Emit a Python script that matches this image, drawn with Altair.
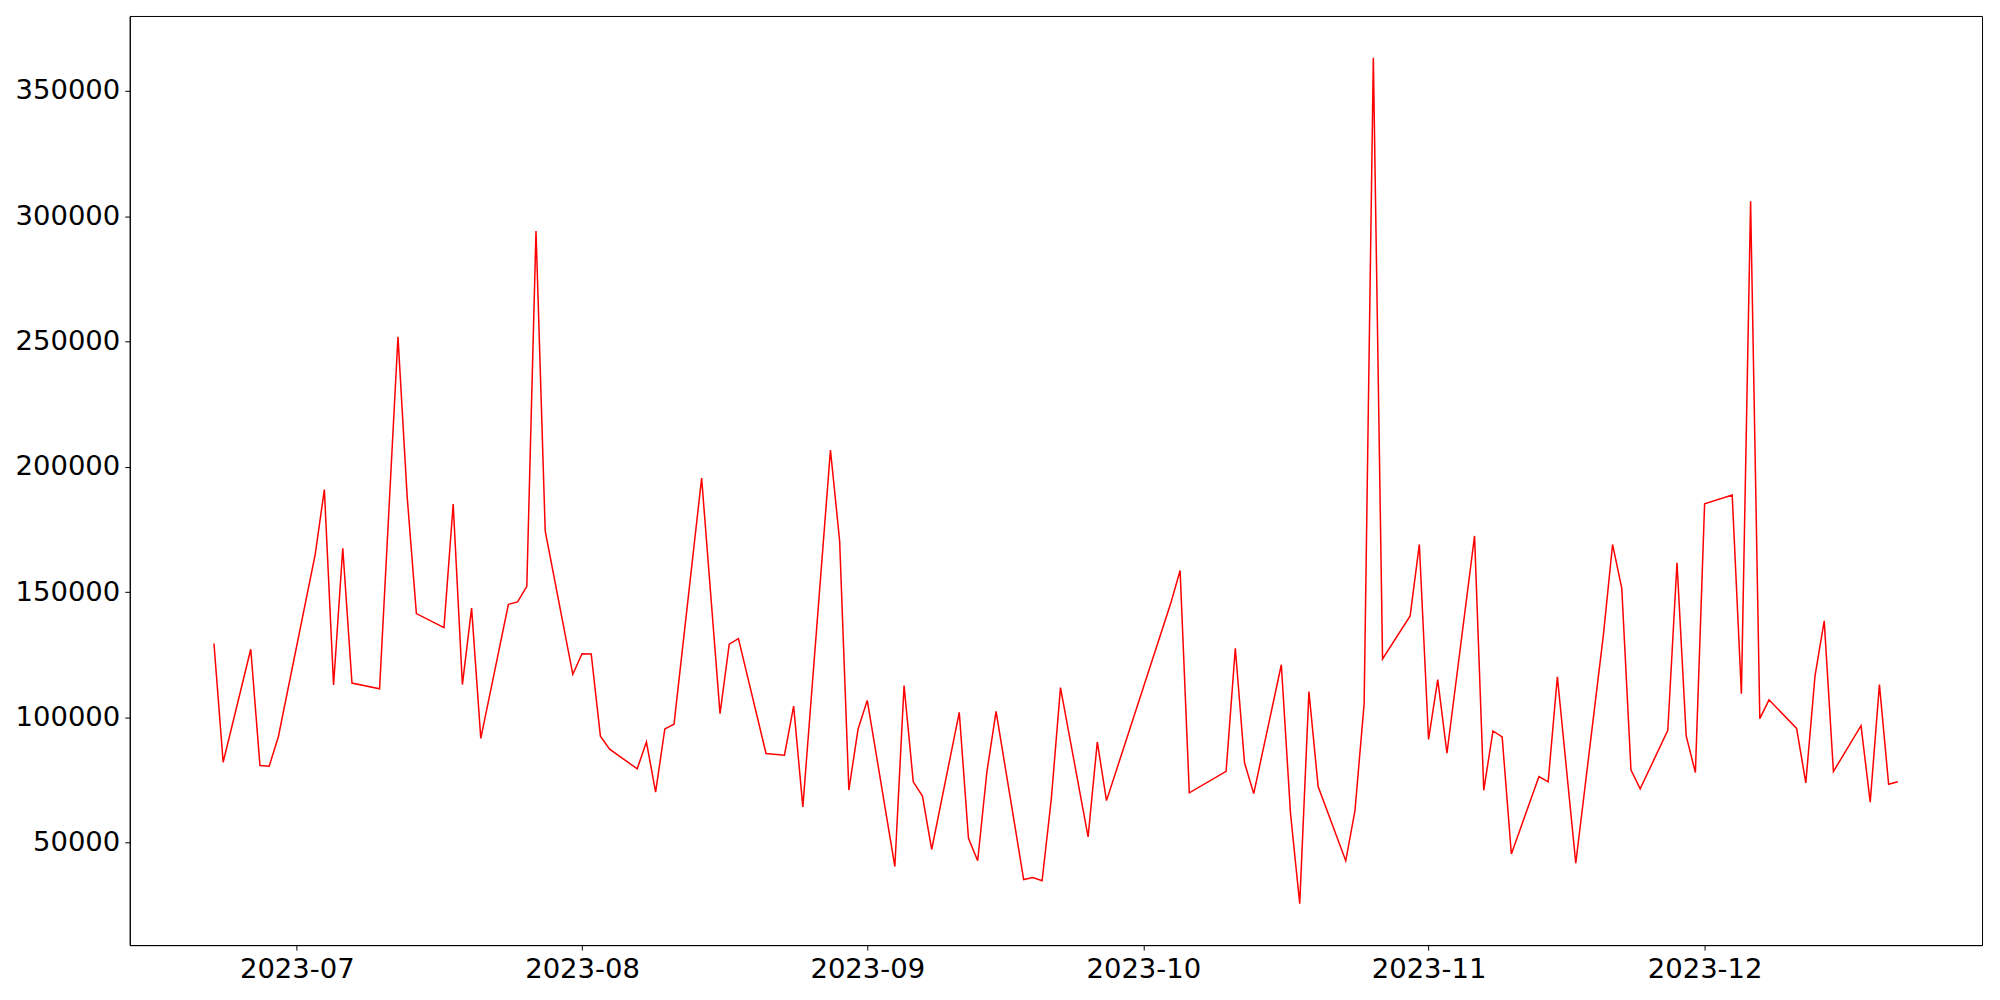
import altair as alt
import pandas as pd

dates = [
    "2023-06-22", "2023-06-23", "2023-06-26", "2023-06-27", "2023-06-28", "2023-06-29",
    "2023-07-03", "2023-07-04", "2023-07-05", "2023-07-06", "2023-07-07", "2023-07-10",
    "2023-07-12", "2023-07-13", "2023-07-14", "2023-07-17", "2023-07-18", "2023-07-19",
    "2023-07-20", "2023-07-21", "2023-07-24", "2023-07-25", "2023-07-26", "2023-07-27",
    "2023-07-28", "2023-07-31", "2023-08-01", "2023-08-02", "2023-08-03", "2023-08-04",
    "2023-08-07", "2023-08-08", "2023-08-09", "2023-08-10", "2023-08-11", "2023-08-14",
    "2023-08-16", "2023-08-17", "2023-08-18", "2023-08-21", "2023-08-23", "2023-08-24",
    "2023-08-25", "2023-08-28", "2023-08-29", "2023-08-30", "2023-08-31", "2023-09-01",
    "2023-09-04", "2023-09-05", "2023-09-06", "2023-09-07", "2023-09-08", "2023-09-11",
    "2023-09-12", "2023-09-13", "2023-09-14", "2023-09-15", "2023-09-18", "2023-09-19",
    "2023-09-20", "2023-09-21", "2023-09-22", "2023-09-25", "2023-09-26", "2023-09-27",
    "2023-10-04", "2023-10-05", "2023-10-06", "2023-10-10", "2023-10-11", "2023-10-12",
    "2023-10-13", "2023-10-16", "2023-10-17", "2023-10-18", "2023-10-19", "2023-10-20",
    "2023-10-23", "2023-10-24", "2023-10-25", "2023-10-26", "2023-10-27", "2023-10-30",
    "2023-10-31", "2023-11-01", "2023-11-02", "2023-11-03", "2023-11-06", "2023-11-07",
    "2023-11-08", "2023-11-09", "2023-11-10", "2023-11-13", "2023-11-14", "2023-11-15",
    "2023-11-17", "2023-11-20", "2023-11-21", "2023-11-22", "2023-11-23", "2023-11-24",
    "2023-11-27", "2023-11-28", "2023-11-29", "2023-11-30", "2023-12-01", "2023-12-04",
    "2023-12-05", "2023-12-06", "2023-12-07", "2023-12-08", "2023-12-11", "2023-12-12",
    "2023-12-13", "2023-12-14", "2023-12-15", "2023-12-18", "2023-12-19", "2023-12-20",
    "2023-12-21", "2023-12-22",
]

values = [
    129500, 82100, 127200, 80800, 80500, 92300,
    164900, 190900, 112900, 167500, 113700, 111400,
    251900, 188000, 141400, 135800, 185100, 113100,
    143600, 91600, 145100, 146100, 152300, 294100,
    174400, 117200, 125400, 125300, 92500, 87300,
    79500, 90200, 70200, 95400, 97300, 195500,
    101500, 129200, 131400, 85600, 84900, 104500,
    64300, 206700, 170400, 71000, 95300, 106800,
    40500, 112700, 74300, 68600, 47300, 102000,
    51800, 42800, 78200, 102400, 35300, 36100,
    34800, 67400, 111900, 52300, 90200, 66800,
    145700, 158600, 69900, 78500, 127600, 81900,
    69600, 121000, 61600, 25700, 110300, 72400,
    42800, 62700, 105400, 363200, 123300, 140500,
    169000, 91200, 115100, 85700, 172400, 70900,
    94600, 92200, 45500, 76400, 74300, 116200,
    41800, 132800, 169000, 151500, 79000, 71500,
    94800, 161700, 92600, 78000, 185200, 188700,
    109400, 305900, 99500, 107000, 95600, 73900,
    116600, 138500, 78400, 96700, 66200, 113100,
    73300, 74300,
]

y_ticks = [50000, 100000, 150000, 200000, 250000, 300000, 350000]
x_tick_months = [7, 8, 9, 10, 11, 12]

df = pd.DataFrame({"date": [d + "T00:00:00" for d in dates], "value": values})

x_domain = [
    alt.DateTime(year=2023, month=6, date=12, hours=20, minutes=24),
    alt.DateTime(year=2023, month=12, date=31, hours=3, minutes=36),
]
x_values = [alt.DateTime(year=2023, month=m, date=1) for m in x_tick_months]

chart = (
    alt.Chart(df)
    .mark_line(color="#ff0000", strokeWidth=1.5)
    .encode(
        x=alt.X(
            "date:T",
            scale=alt.Scale(domain=x_domain),
            axis=alt.Axis(values=x_values, format="%Y-%m", title=None,
                          labelFlush=False, labelOverlap=False),
        ),
        y=alt.Y(
            "value:Q",
            scale=alt.Scale(domain=[9150, 379850], nice=False, zero=False),
            axis=alt.Axis(values=y_ticks, format="d", title=None),
        ),
    )
    .properties(
        width=1856,
        height=931,
        autosize=alt.AutoSizeParams(type="none"),
        padding={"left": 122, "top": 7, "right": 10, "bottom": 50},
        background="white",
    )
    .configure_view(stroke="black", strokeWidth=1)
    .configure_axis(
        grid=False,
        labelFont="DejaVu Sans",
        labelFontSize=27.5,
        labelColor="black",
        tickColor="black",
        tickSize=5,
        tickWidth=1,
        domainColor="black",
        domainWidth=1,
        labelPadding=5,
    )
)

chart.save("out.html", embed_options={"renderer": "svg", "actions": False})
